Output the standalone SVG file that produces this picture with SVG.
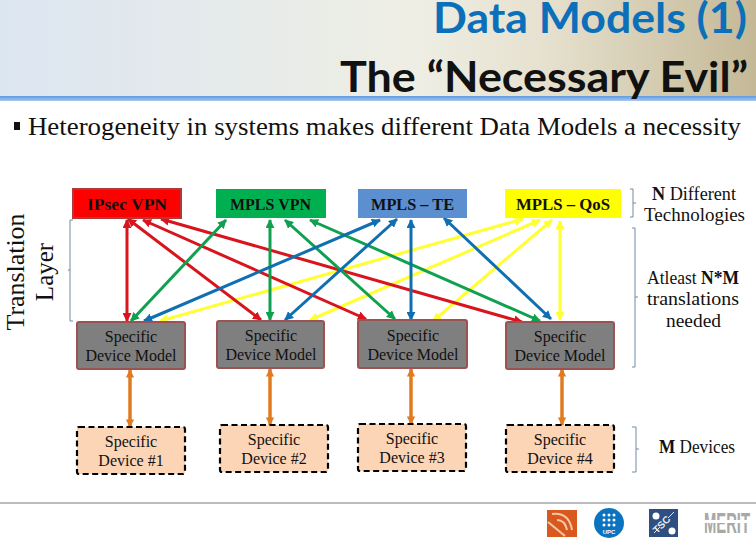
<svg xmlns="http://www.w3.org/2000/svg" width="756" height="540" viewBox="0 0 756 540">
<style>
text{font-family:"Liberation Serif",serif;fill:#111}
.t{font-family:Lato,"Open Sans",sans-serif;font-weight:700;font-size:42px}
.h{font-size:17px;font-weight:700;text-anchor:middle}
.s{font-size:16px;text-anchor:middle}
.n{font-size:18px}
.m{fill:#7f7f7f;stroke:#9c5252;stroke-width:2}
.d{fill:#fbd5b5;stroke:#000;stroke-width:2.2;stroke-dasharray:6 3.5}
.b{fill:none;stroke:#6f8ba3;stroke-width:1}
.r,.g,.u,.y,.o{fill:none;stroke-width:3}
.r{stroke:#d8141c;marker-start:url(#ar);marker-end:url(#ar)}
.g{stroke:#0fa14f;marker-start:url(#ag);marker-end:url(#ag)}
.u{stroke:#0f6fb0;marker-start:url(#au);marker-end:url(#au)}
.y{stroke:#ffff33;marker-start:url(#ay);marker-end:url(#ay)}
.o{stroke:#e07b20;stroke-width:3.500;marker-start:url(#ao);marker-end:url(#ao)}
</style>
<defs>
<linearGradient id="bg" x1="0" x2="1" y1="0" y2="0"><stop offset="0" stop-color="#dce6f2"/><stop offset=".55" stop-color="#eeeee4"/><stop offset=".72" stop-color="#e6e1cf"/><stop offset="1" stop-color="#c4b896"/></linearGradient>
<linearGradient id="ln" x1="0" x2="0" y1="0" y2="1"><stop offset="0" stop-color="#5f9ae0"/><stop offset="1" stop-color="#a9c8ee"/></linearGradient>
<marker id="ar" viewBox="0 0 10 10" refX="9" refY="5" markerWidth="3" markerHeight="3" orient="auto-start-reverse"><path d="M0 0L10 5L0 10z" fill="#d8141c"/></marker>
<marker id="ag" viewBox="0 0 10 10" refX="9" refY="5" markerWidth="3" markerHeight="3" orient="auto-start-reverse"><path d="M0 0L10 5L0 10z" fill="#0fa14f"/></marker>
<marker id="au" viewBox="0 0 10 10" refX="9" refY="5" markerWidth="3" markerHeight="3" orient="auto-start-reverse"><path d="M0 0L10 5L0 10z" fill="#0f6fb0"/></marker>
<marker id="ay" viewBox="0 0 10 10" refX="9" refY="5" markerWidth="3" markerHeight="3" orient="auto-start-reverse"><path d="M0 0L10 5L0 10z" fill="#ffff33"/></marker>
<marker id="ao" viewBox="0 0 10 10" refX="9" refY="5" markerWidth="2.400" markerHeight="2.400" orient="auto-start-reverse"><path d="M0 0L10 5L0 10z" fill="#e07b20"/></marker>
</defs>
<rect width="756" height="540" fill="#fff"/>
<rect width="756" height="97" fill="url(#bg)"/>
<rect y="96" width="756" height="5" fill="url(#ln)"/>
<g id="title">
<text class="t" x="433" y="33" style="fill:#0b6fba" textLength="314" lengthAdjust="spacingAndGlyphs">Data Models (1)</text>
<text class="t" x="340" y="92" textLength="408" lengthAdjust="spacingAndGlyphs">The “Necessary Evil”</text>
</g>
<rect x="14" y="122" width="6" height="8" fill="#111"/>
<text x="28" y="135" font-size="25" textLength="713" lengthAdjust="spacingAndGlyphs">Heterogeneity in systems makes different Data Models a necessity</text>
<g id="connectors">
<path class="y" d="M523 219L160 321"/><path class="y" d="M540 220L310 320"/><path class="y" d="M552 220L433 321"/><path class="y" d="M560 221V320"/>
<path class="r" d="M127 220V321"/><path class="r" d="M128 219L261 320"/><path class="r" d="M143 220L366 319"/><path class="r" d="M161 219L522 322"/>
<path class="g" d="M226 220L131 321"/><path class="g" d="M270 220V320"/><path class="g" d="M285 220L395 319"/><path class="g" d="M310 220L540 321"/>
<path class="u" d="M380 220L144 321"/><path class="u" d="M397 219L285 320"/><path class="u" d="M411 220V320"/><path class="u" d="M444 218L551 319"/>
<path class="o" d="M130 370V427"/><path class="o" d="M270 369V425"/><path class="o" d="M411 369V424"/><path class="o" d="M562 369V425"/>
</g>
<g id="n1"><rect x="73" y="189" width="108" height="29" fill="#ff0000" stroke="#b03a3a" stroke-width="2"/><text class="h" x="127" y="210" textLength="80" lengthAdjust="spacingAndGlyphs">IPsec VPN</text></g>
<g id="n2"><rect x="216" y="189" width="110" height="29" fill="#00b050"/><text class="h" x="270.500" y="210" textLength="81" lengthAdjust="spacingAndGlyphs">MPLS VPN</text></g>
<g id="n3"><rect x="358" y="189" width="109" height="29" fill="#5b8fd0"/><text class="h" x="412.500" y="210" textLength="83" lengthAdjust="spacingAndGlyphs">MPLS – TE</text></g>
<g id="n4"><rect x="505" y="189" width="116" height="29" fill="#ffff00"/><text class="h" x="563" y="210" textLength="94" lengthAdjust="spacingAndGlyphs">MPLS – QoS</text></g>
<g id="m1"><rect class="m" x="77" y="322" width="108" height="47" rx="2"/><text class="s" x="131" y="342">Specific</text><text class="s" x="131" y="361">Device Model</text></g>
<g id="m2"><rect class="m" x="217" y="321" width="107" height="47" rx="2"/><text class="s" x="271" y="341">Specific</text><text class="s" x="271" y="360">Device Model</text></g>
<g id="m3"><rect class="m" x="358" y="320" width="109" height="48" rx="2"/><text class="s" x="413" y="341">Specific</text><text class="s" x="413" y="360">Device Model</text></g>
<g id="m4"><rect class="m" x="506" y="322" width="108" height="47" rx="2"/><text class="s" x="560" y="342">Specific</text><text class="s" x="560" y="361">Device Model</text></g>
<g id="d1"><rect class="d" x="77" y="427" width="108" height="47" rx="2"/><text class="s" x="131" y="447">Specific</text><text class="s" x="131" y="466">Device #1</text></g>
<g id="d2"><rect class="d" x="220" y="425" width="108" height="47" rx="2"/><text class="s" x="274" y="445">Specific</text><text class="s" x="274" y="464">Device #2</text></g>
<g id="d3"><rect class="d" x="358" y="424" width="108" height="47" rx="2"/><text class="s" x="412" y="444">Specific</text><text class="s" x="412" y="463">Device #3</text></g>
<g id="d4"><rect class="d" x="506" y="425" width="108" height="47" rx="2"/><text class="s" x="560" y="445">Specific</text><text class="s" x="560" y="464">Device #4</text></g>
<g id="brackets">
<path class="b" d="M73 220H70V321H73M70 270H68"/>
<path class="b" d="M630 189H633V217H630M633 203H636"/>
<path class="b" d="M632 228H635V367H632M635 297H638"/>
<path class="b" d="M632 427H636V472H632M636 449H639"/>
</g>
<g id="labels">
<text transform="translate(24 272) rotate(-90)" font-size="25" text-anchor="middle" textLength="117" lengthAdjust="spacingAndGlyphs">Translation</text>
<text transform="translate(53 272) rotate(-90)" font-size="25" text-anchor="middle">Layer</text>
<text class="n" x="652" y="200" textLength="84" lengthAdjust="spacingAndGlyphs"><tspan font-weight="700">N</tspan> Different</text>
<text class="n" x="644" y="221" textLength="101" lengthAdjust="spacingAndGlyphs">Technologies</text>
<text class="n" x="647" y="284" textLength="92" lengthAdjust="spacingAndGlyphs">Atleast <tspan font-weight="700">N*M</tspan></text>
<text class="n" x="647" y="305" textLength="92" lengthAdjust="spacingAndGlyphs">translations</text>
<text class="n" x="666" y="327" textLength="55" lengthAdjust="spacingAndGlyphs">needed</text>
<text class="n" x="659" y="453" textLength="76" lengthAdjust="spacingAndGlyphs"><tspan font-weight="700">M</tspan> Devices</text>
</g>
<path d="M0 503H756" stroke="#a6a6a6" stroke-width="1.500"/>
<g id="logos">
<rect x="547" y="510" width="30" height="27" fill="#d9581e"/>
<path d="M552 514Q569 512 572 530M557 520Q565 520 567 530M548 522L565 536" fill="none" stroke="#f3c9a8" stroke-width="2"/>
<circle cx="609" cy="523" r="15" fill="#0b73bf"/>
<g fill="#fff"><circle cx="604" cy="515" r="1.500"/><circle cx="609" cy="515" r="1.500"/><circle cx="614" cy="515" r="1.500"/><circle cx="604" cy="520" r="1.500"/><circle cx="609" cy="520" r="1.500"/><circle cx="614" cy="520" r="1.500"/><circle cx="604" cy="525" r="1.500"/><circle cx="609" cy="525" r="1.500"/><circle cx="614" cy="525" r="1.500"/></g>
<text x="609" y="534" font-size="6" text-anchor="middle" font-weight="700" style="font-family:'Liberation Sans',sans-serif;fill:#fff">UPC</text>
<rect x="649" y="509" width="29" height="28" fill="#2f4f80"/>
<circle cx="656" cy="516" r="3.500" fill="#fff"/><circle cx="672" cy="531" r="3.500" fill="#fff"/>
<path d="M654 533L660 527M668 518L674 512" stroke="#dfe6f0" stroke-width="1"/>
<text transform="translate(664 527) rotate(-45)" font-size="10" font-weight="700" text-anchor="middle" style="font-family:'Liberation Sans',sans-serif;fill:#e8edf5">TSC</text>
<text x="704" y="533" font-size="30" font-weight="700" textLength="46" lengthAdjust="spacingAndGlyphs" style="font-family:'Liberation Sans',sans-serif;fill:#a8a8a8">MERIT</text>
<rect x="702" y="520" width="50" height="3" fill="#fff"/>
</g>
</svg>
